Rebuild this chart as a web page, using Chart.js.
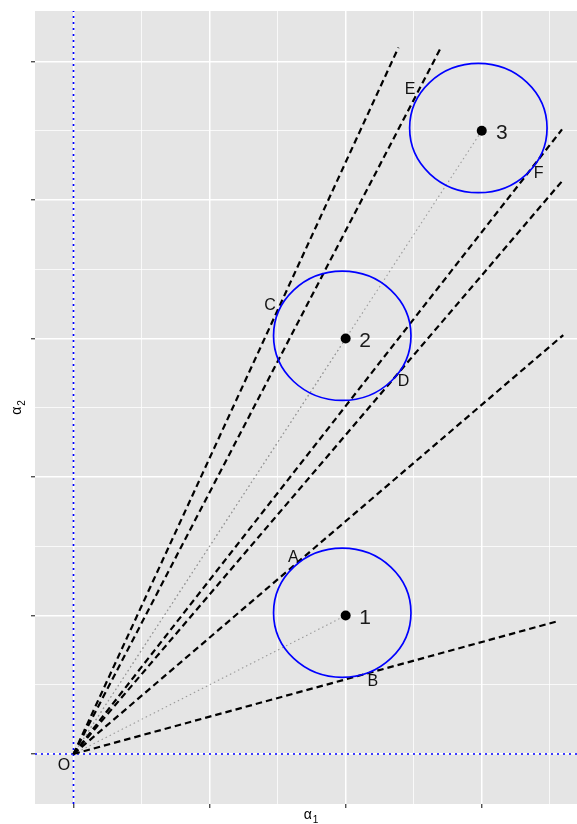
<!DOCTYPE html>
<html>
<head>
<meta charset="utf-8">
<script src="https://cdn.jsdelivr.net/npm/chart.js@4/dist/chart.umd.min.js"></script>
<style>
  html, body { margin: 0; padding: 0; background: #ffffff; overflow: hidden; }
  canvas { display: block; }
</style>
</head>
<body>
<canvas id="tangentChart" width="577" height="824"></canvas>
<script>
// axis limits (data units)
const xLimits = [-0.283, 3.70];
const yLimits = [-0.361, 5.365];

// the three centres (black dots) and their names
const centreX = [2, 2, 3];
const centreY = [1, 3, 4.5];
const centreNames = ['1', '2', '3'];

// blue circles
const circleX = [1.975, 1.975, 2.975];
const circleY = [1.02, 3.02, 4.52];
const circleRx = [0.505, 0.505, 0.505];
const circleRy = [0.467, 0.467, 0.467];

// dashed rays from the origin, end points (A, B, C, D, E, F)
const rayEndX = [3.599, 3.562, 2.388, 3.597, 2.702, 3.590];
const rayEndY = [3.025, 0.960, 5.102, 4.144, 5.105, 4.510];

// letter labels
const letterNames = ['A', 'B', 'C', 'D', 'E', 'F', 'O'];
const letterX = [1.616, 2.200, 1.445, 2.425, 2.474, 3.418, -0.070];
const letterY = [1.419, 0.522, 3.237, 2.688, 4.794, 4.193, -0.085];

// number labels next to the dots
const numberX = [2.143, 2.143, 3.148];
const numberY = [0.980, 2.982, 4.486];

// axis titles: symbol + subscript
const xTitle = ['α', '1'];
const yTitle = ['α', '2'];

const FONT = '"Liberation Sans", Arial, Helvetica, sans-serif';

function isMajor(v) {
    return Math.abs(v - Math.round(v)) < 1e-6;
}

// panel background like ggplot
const panelBackground = {
    id: 'panelBackground',
    beforeDraw(chart) {
        const { ctx, chartArea } = chart;
        ctx.save();
        ctx.fillStyle = '#E5E5E5';
        ctx.fillRect(chartArea.left, chartArea.top, chartArea.right - chartArea.left, chartArea.bottom - chartArea.top);
        ctx.restore();
    }
};

// draws "α" with a lowered small subscript, centred on (0,0) baseline
function drawSubscripted(ctx, parts) {
    ctx.font = '14px ' + FONT;
    const w1 = ctx.measureText(parts[0]).width;
    ctx.font = '10px ' + FONT;
    const w2 = ctx.measureText(parts[1]).width;
    const start = -(w1 + 1 + w2) / 2;
    ctx.textAlign = 'left';
    ctx.textBaseline = 'alphabetic';
    ctx.font = '14px ' + FONT;
    ctx.fillText(parts[0], start, 0);
    ctx.font = '10px ' + FONT;
    ctx.fillText(parts[1], start + w1 + 1, 3.5);
}

// axis titles
const axisTitles = {
    id: 'axisTitles',
    afterDraw(chart) {
        const { ctx, chartArea } = chart;
        ctx.save();
        ctx.fillStyle = '#000000';
        ctx.translate((chartArea.left + chartArea.right) / 2 + 5, 819);
        drawSubscripted(ctx, xTitle);
        ctx.restore();

        ctx.save();
        ctx.fillStyle = '#000000';
        ctx.translate(21, (chartArea.top + chartArea.bottom) / 2);
        ctx.rotate(-Math.PI / 2);
        drawSubscripted(ctx, yTitle);
        ctx.restore();
    }
};

// circles and text labels, placed through the scales
const annotations = {
    id: 'annotations',
    afterDatasetsDraw(chart) {
        const { ctx, chartArea } = chart;
        const xs = chart.scales.x;
        const ys = chart.scales.y;
        ctx.save();
        ctx.beginPath();
        ctx.rect(chartArea.left, chartArea.top, chartArea.right - chartArea.left, chartArea.bottom - chartArea.top);
        ctx.clip();

        // circles
        ctx.strokeStyle = '#0000FF';
        ctx.lineWidth = 1.7;
        for (let i = 0; i < circleX.length; i++) {
            const cx = xs.getPixelForValue(circleX[i]);
            const cy = ys.getPixelForValue(circleY[i]);
            const rx = xs.getPixelForValue(circleX[i] + circleRx[i]) - cx;
            const ry = cy - ys.getPixelForValue(circleY[i] + circleRy[i]);
            ctx.beginPath();
            ctx.ellipse(cx, cy, rx, ry, 0, 0, Math.PI * 2);
            ctx.stroke();
        }

        // letters
        ctx.fillStyle = '#111111';
        ctx.textAlign = 'center';
        ctx.textBaseline = 'middle';
        ctx.font = '16px ' + FONT;
        letterNames.forEach((t, i) => {
            ctx.fillText(t, xs.getPixelForValue(letterX[i]), ys.getPixelForValue(letterY[i]));
        });

        // numbers
        ctx.font = '21px ' + FONT;
        ctx.fillStyle = '#1a1a1a';
        centreNames.forEach((t, i) => {
            ctx.fillText(t, xs.getPixelForValue(numberX[i]), ys.getPixelForValue(numberY[i]));
        });
        ctx.restore();
    }
};

const datasets = [];

// blue dotted axes through the origin
datasets.push({
    data: [{ x: 0, y: yLimits[0] }, { x: 0, y: yLimits[1] }],
    borderColor: '#0000FF', borderWidth: 1.7, borderDash: [2, 4],
    showLine: true, pointRadius: 0, order: 10
});
datasets.push({
    data: [{ x: xLimits[0], y: 0 }, { x: xLimits[1], y: 0 }],
    borderColor: '#0000FF', borderWidth: 1.7, borderDash: [2, 4],
    showLine: true, pointRadius: 0, order: 10
});

// grey dotted lines origin -> centres
centreX.forEach((cx, i) => {
    datasets.push({
        data: [{ x: 0, y: 0 }, { x: cx, y: centreY[i] }],
        borderColor: '#9a9a9a', borderWidth: 1.1, borderDash: [1.5, 3],
        showLine: true, pointRadius: 0, order: 9
    });
});

// dashed rays
rayEndX.forEach((ex, i) => {
    datasets.push({
        data: [{ x: 0, y: 0 }, { x: ex, y: rayEndY[i] }],
        borderColor: '#000000', borderWidth: 2.2, borderDash: [6.5, 4],
        showLine: true, pointRadius: 0, order: 8
    });
});

// black dots
datasets.push({
    data: centreX.map((cx, i) => ({ x: cx, y: centreY[i] })),
    backgroundColor: '#000000', borderColor: '#000000',
    pointRadius: 5, pointBorderWidth: 0, showLine: false, order: 1
});

const axisCommon = {
    type: 'linear',
    border: { display: false },
    grid: {
        color: '#FFFFFF',
        lineWidth: (c) => (c.tick && isMajor(c.tick.value) ? 1.5 : 0.75),
        tickColor: (c) => (c.tick && isMajor(c.tick.value) ? '#333333' : 'rgba(0,0,0,0)'),
        tickWidth: 1.2,
        tickLength: 4,
        drawTicks: true
    },
    ticks: { display: false, stepSize: 0.5, includeBounds: false },
    title: { display: false }
};

new Chart(document.getElementById('tangentChart').getContext('2d'), {
    type: 'scatter',
    data: { datasets: datasets },
    options: {
        responsive: false,
        animation: false,
        events: [],
        layout: { autoPadding: false, padding: { top: 11, right: 0, bottom: 0, left: 0 } },
        plugins: {
            legend: { display: false },
            tooltip: { enabled: false }
        },
        scales: {
            x: {
                ...axisCommon,
                min: xLimits[0],
                max: xLimits[1],
                afterFit: (scale) => { scale.height = 20; }
            },
            y: {
                ...axisCommon,
                min: yLimits[0],
                max: yLimits[1],
                afterFit: (scale) => { scale.width = 35; }
            }
        }
    },
    plugins: [panelBackground, annotations, axisTitles]
});
</script>
</body>
</html>
